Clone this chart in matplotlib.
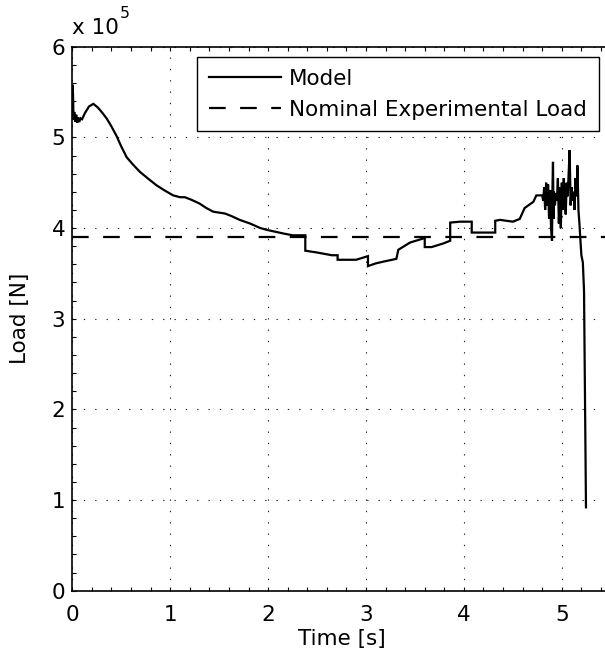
import matplotlib
matplotlib.use("Agg")
import matplotlib.pyplot as plt
from matplotlib.ticker import MultipleLocator

# ---- data (Load in units of 1e5 N) ----
time_s = [
    0.000, 0.003, 0.008, 0.012, 0.020, 0.030, 0.040, 0.050, 0.060, 0.070, 0.085,
    0.10, 0.13, 0.17, 0.215, 0.26, 0.30, 0.35, 0.40, 0.45, 0.50, 0.556, 0.62,
    0.69, 0.78, 0.862, 0.95, 1.03, 1.10, 1.15, 1.22, 1.30, 1.37, 1.44, 1.50,
    1.56, 1.63, 1.71, 1.815, 1.92, 1.986, 2.07, 2.155, 2.25, 2.38, 2.38, 2.50,
    2.65, 2.71, 2.71, 2.90, 2.99, 3.02, 3.02, 3.10, 3.18, 3.31, 3.33, 3.45,
    3.60, 3.60, 3.67, 3.79, 3.86, 3.86, 3.96, 4.08, 4.08, 4.32, 4.32, 4.37,
    4.50, 4.57, 4.62, 4.71, 4.74, 4.80,
    4.81, 4.82, 4.83, 4.84, 4.85, 4.86, 4.87, 4.88, 4.89, 4.90, 4.905, 4.91,
    4.915, 4.92, 4.93, 4.94, 4.95, 4.96, 4.97, 4.98, 4.99, 5.00, 5.01, 5.02,
    5.03, 5.04, 5.05, 5.06, 5.07, 5.08, 5.09, 5.10, 5.11, 5.12, 5.13, 5.14,
    5.15, 5.16, 5.17, 5.18, 5.19, 5.20, 5.215, 5.227, 5.247,
]
load_1e5 = [
    5.30, 5.58, 5.45, 5.20, 5.28, 5.17, 5.25, 5.16, 5.22, 5.17, 5.21,
    5.20, 5.27, 5.34, 5.37, 5.33, 5.28, 5.21, 5.12, 5.02, 4.90, 4.78, 4.70,
    4.62, 4.54, 4.47, 4.41, 4.36, 4.34, 4.34, 4.31, 4.27, 4.22, 4.18, 4.17,
    4.16, 4.13, 4.09, 4.05, 4.00, 3.98, 3.96, 3.94, 3.92, 3.92, 3.75, 3.73,
    3.70, 3.70, 3.65, 3.65, 3.68, 3.69, 3.58, 3.61, 3.63, 3.66, 3.76, 3.84,
    3.89, 3.79, 3.79, 3.83, 3.86, 4.06, 4.07, 4.07, 3.95, 3.95, 4.08, 4.09,
    4.07, 4.10, 4.22, 4.29, 4.36, 4.36,
    4.30, 4.45, 4.20, 4.50, 4.25, 4.48, 4.10, 4.42, 4.00, 3.86, 4.45, 4.73,
    4.10, 4.40, 4.25, 4.38, 4.30, 4.55, 4.05, 4.45, 4.00, 4.50, 4.20, 4.55,
    4.35, 4.15, 4.50, 4.35, 4.60, 4.86, 4.25, 4.45, 4.30, 4.40, 4.20, 4.55,
    4.35, 4.69, 4.20, 4.05, 3.87, 3.70, 3.62, 3.31, 0.92,
]
nominal_load = 3.9
x_ticks = [0, 1, 2, 3, 4, 5]
y_ticks = [0, 1, 2, 3, 4, 5, 6]
series_labels = ["Model", "Nominal Experimental Load"]

FONT = ["DejaVu Sans"]
FS = 15.5
plt.rcParams["font.family"] = FONT
plt.rcParams["font.size"] = FS

W, H = 605, 662
fig = plt.figure(figsize=(W / 100, H / 100), dpi=100)
left_px, right_px, top_px, bot_px = 72.3, 610.75, 46.7, 590.7
ax = fig.add_axes([left_px / W, 1 - bot_px / H,
                   (right_px - left_px) / W, (bot_px - top_px) / H])

ax.plot(time_s, load_1e5, color="black", lw=1.6, label=series_labels[0],
        solid_joinstyle="miter")
ax.axhline(nominal_load, color="black", lw=1.6, dashes=(7.5, 6.5),
           label=series_labels[1])

ax.set_xlim(0, 5.5)
ax.set_ylim(0, 6)
ax.set_xticks(x_ticks)
ax.set_yticks(y_ticks)
ax.xaxis.set_minor_locator(MultipleLocator(0.2))
ax.yaxis.set_minor_locator(MultipleLocator(0.2))
ax.tick_params(which="both", direction="in", top=True, right=True,
               length=3.0, width=0.8, color="black")
ax.tick_params(axis="x", which="major", pad=10, labelsize=FS)
ax.tick_params(axis="y", which="major", pad=5, labelsize=FS)
for s in ax.spines.values():
    s.set_linewidth(1.2)

ax.grid(True, which="major", color="#222222", lw=0.8,
        linestyle=(0, (1.2, 9.0)))

ax.set_xlabel("Time [s]", fontsize=FS)
ax.set_ylabel("Load [N]", fontsize=FS)
ax.xaxis.set_label_coords(0.5, -0.071)
ax.yaxis.set_label_coords(-0.0786, 0.5)

# exponent label
fig.text(72.5 / W, 1 - 34 / H, "x 10", fontsize=FS, ha="left", va="baseline")
fig.text(120 / W, 1 - 18 / H, "5", fontsize=FS * 0.72, ha="left", va="baseline")

leg = ax.legend(loc="upper right", bbox_to_anchor=(599 / W, 1 - 57 / H),
                bbox_transform=fig.transFigure, borderaxespad=0,
                fancybox=False, framealpha=1, edgecolor="black",
                handlelength=3.35, handletextpad=0.4, labelspacing=0.5,
                borderpad=0.55, fontsize=FS)
leg.get_frame().set_linewidth(1.0)

fig.savefig("out.png", dpi=100)
